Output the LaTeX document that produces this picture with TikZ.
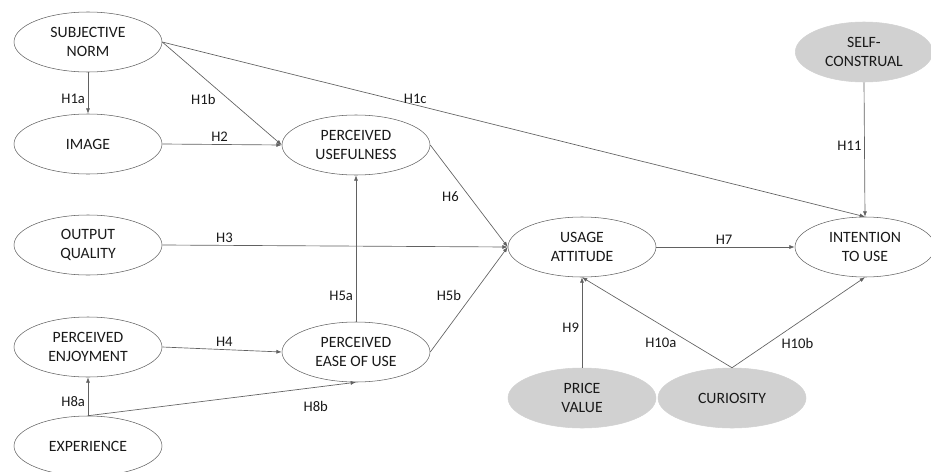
\documentclass[tikz,border=0pt]{standalone}
\usepackage{fontspec}
\setmainfont{Carlito}
\usetikzlibrary{shapes.geometric,arrows.meta}
\definecolor{edge}{rgb}{0.38,0.38,0.38}
\definecolor{shade}{rgb}{0.82,0.82,0.82}
\tikzset{
	construct/.style={ellipse,draw=edge,minimum width=111pt,minimum height=45pt,inner sep=0pt,
		align=center,text=black!90,font=\fontsize{11.8}{14.25}\selectfont},
	moderator/.style={construct,fill=shade,draw=shade},
	link/.style={draw=edge,line width=0.5pt,-{Latex[length=4pt,width=3pt]}},
	hyp/.style={text=black!90,inner sep=2pt,font=\fontsize{11}{12}\selectfont}
}

\begin{document}
\begin{tikzpicture}[x=0.75pt,y=-0.75pt]
			\useasboundingbox (0,0) rectangle (931,471);
			
			\node[construct] (sn) at (88,42) {SUBJECTIVE\\NORM};
			\node[construct] (img) at (88,144) {IMAGE};
			\node[construct] (oq) at (88,245) {OUTPUT\\QUALITY};
			\node[construct] (pe) at (88,347) {PERCEIVED\\ENJOYMENT};
			\node[construct] (exp) at (88,446) {EXPERIENCE};
			\node[construct] (pu) at (356,145) {PERCEIVED\\USEFULNESS};
			\node[construct] (peou) at (356,352) {PERCEIVED\\EASE OF USE};
			\node[construct] (ua) at (582,247) {USAGE\\ATTITUDE};
			\node[construct,minimum width=105pt] (it) at (865,247) {INTENTION\\TO USE};
			\node[moderator,minimum width=103pt] (sc) at (864,52) {SELF-\\CONSTRUAL};
			\node[moderator] (pv) at (582,398) {PRICE\\VALUE};
			\node[moderator] (cur) at (732,398) {CURIOSITY};
			
			\draw[link] (sn.south) -- node[hyp,pos=0.65,left] {H1a} (img.north);
			\draw[link] (sn.east) -- node[hyp,pos=0.56,left=8pt] {H1b} (pu.west);
			\draw[link] (sn.east) -- node[hyp,pos=0.36,above,inner sep=0.5pt] {H1c} (it.north);
			\draw[link] (img.east) -- node[hyp,pos=0.48,above] {H2} (pu.west);
			\draw[link] (oq.east) -- node[hyp,pos=0.18,above] {H3} (ua.west);
			\draw[link] (pe.east) -- node[hyp,pos=0.52,above] {H4} (peou.west);
			\draw[link] (peou.north) -- node[hyp,pos=0.18,left] {H5a} (pu.south);
			\draw[link] (peou.east) -- node[hyp,pos=0.54,left=6pt] {H5b} (ua.west);
			\draw[link] (pu.east) -- node[hyp,pos=0.51,left=6pt] {H6} (ua.west);
			\draw[link] (ua.east) -- node[hyp,pos=0.49,above] {H7} (it.west);
			\draw[link] (exp.north) -- node[hyp,pos=0.37,left] {H8a} (pe.south);
			\draw[link] (exp.north) -- node[hyp,pos=0.85,below=8pt] {H8b} (peou.south);
			\draw[link] (pv.north) -- node[hyp,pos=0.44,left] {H9} (ua.south);
			\draw[link] (cur.north) -- node[hyp,pos=0.28,left=8pt] {H10a} (ua.south);
			\draw[link] (cur.north) -- node[hyp,pos=0.27,right=8pt] {H10b} (it.south);
			\draw[link] (sc.south) -- node[hyp,pos=0.47,left] {H11} (it.north);
\end{tikzpicture}
\end{document}
